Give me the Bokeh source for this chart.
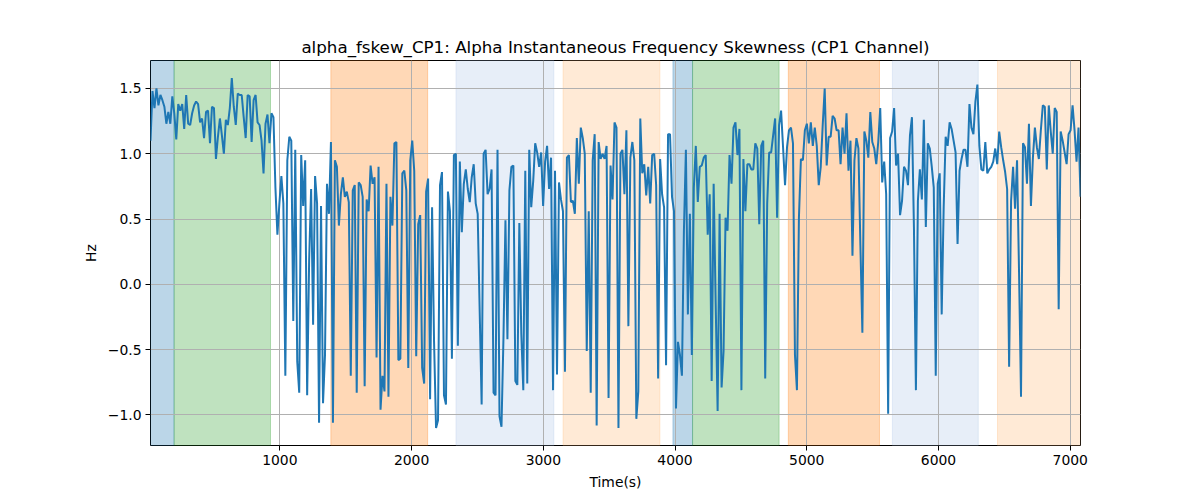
import numpy as np
from bokeh.plotting import figure
from bokeh.models import BoxAnnotation, FixedTicker, CustomJSTickFormatter, Range1d
from bokeh.embed import file_html
from bokeh.resources import INLINE

# ---- data ----
t_start = 18.0
t_end = 7078.0

hz = [
    # ~18 .. ~910 s
    1.1, 1.48, 1.35, 1.5, 1.37, 1.45, 1.41, 1.36, 1.23, 1.32,
    1.23, 1.44, 1.31, 1.11, 1.38, 1.33, 1.38, 1.19, 1.45, 1.23,
    1.22, 1.31, 1.37, 1.4, 1.38, 1.24, 1.27, 1.12, 1.32, 1.33,
    1.08, 1.36, 1.35, 0.96, 1.13, 1.27, 1.14, 1.0, 1.26, 1.22,
    1.35, 1.58, 1.36, 1.22, 1.46, 1.45, 1.45, 1.28, 1.12, 1.45,
    1.44, 1.09, 1.41, 1.45, 1.24, 1.22, 1.1, 0.85, 1.23, 1.3,
    # ~925 .. ~1800 s
    1.08, 1.31, 1.28, 0.74, 0.38, 0.62, 0.83, 0.62, -0.7, 0.95,
    1.13, 1.1, -0.28, 1.03, -0.59, -0.83, 0.99, 0.6, 0.95, -0.85,
    0.18, 0.73, -0.31, 0.83, 0.62, -1.06, 0.6, -0.91, -0.54, 0.77,
    0.54, 1.09, -1.06, 0.95, 0.9, 0.45, 0.69, 0.82, 0.67, 0.71,
    0.63, -0.7, 0.72, 0.76, -0.83, 0.78, 0.76, 0.67, -0.78, 0.65,
    0.56, 0.91, 0.77, 0.82, -0.56, 0.9, -0.96, -0.7, -0.82,
    # ~1810 .. ~2690 s
    0.77, -0.86, 0.67, 0.45, 1.08, 1.09, -0.58, -0.57, 0.85, 0.87,
    0.72, -0.64, 0.95, 1.1, 0.87, -0.55, 0.46, 0.53, -0.64, -0.76,
    0.71, 0.81, -0.88, 0.59, -0.44, -1.1, -1.04, 0.76, 0.86, -0.85,
    -0.92, 0.71, 0.56, -0.57, 0.99, 1.0, -0.47, 0.94, 0.4, 0.77,
    0.88, 0.73, 0.63, 0.82, 0.92, 0.62, 0.54, -0.2, -0.92, 1.0,
    1.03, 0.69, 0.73, 0.88, -0.83, -0.85, 1.03, -1.01, -1.09,
    # ~2700 .. ~3570 s
    -0.41, 0.49, -0.42, 0.72, 0.9, 0.91, -0.74, -0.77, 0.47, -0.38,
    -0.81, 0.87, -0.76, 1.03, 0.59, 0.79, 1.08, 1.01, 0.9, 1.01,
    0.6, 0.94, 1.06, 0.73, 0.97, -0.81, 0.87, -0.69, 0.78, 0.65,
    0.56, -0.67, 0.97, 0.99, 0.63, 0.64, 0.54, 1.12, 0.77, 1.2,
    1.12, 1.0, -0.51, 0.56, -0.83, 0.95, 1.15, -1.08, 1.09, 0.96,
    1.0, 0.96, 1.06, -0.87, 0.91, 0.65, 1.24, 1.2, -1.1,
    # ~3590 .. ~4480 s
    1.0, 1.03, 0.69, 1.18, -0.32, 0.97, 1.09, 0.95, -1.03, -0.82,
    1.27, 0.85, 0.92, 0.68, 0.9, 0.62, 0.99, 1.0, 0.76, -0.72,
    0.96, 0.69, 0.59, -0.62, 1.15, 1.15, 0.67, 0.56, -0.95, -0.44,
    -0.54, -0.7, 0.41, 1.03, -0.23, 0.54, -0.54, 0.74, 1.06, 0.63,
    0.9, 0.91, 0.97, 0.99, 0.38, 0.69, -0.74, 0.77, -0.13, -0.97,
    0.54, -0.79, -0.51, 0.51, 0.41, 0.99, 0.77, 1.2, 1.24, 0.99,
    # ~4490 .. ~5370 s
    1.19, -0.81, 0.96, 0.56, 0.92, 0.92, 0.88, 0.88, 1.08, 1.04,
    0.46, 1.06, 1.1, -0.72, 0.62, 1.01, 1.01, 1.14, 1.27, 0.51,
    1.22, 1.33, 1.05, 0.76, 1.05, 1.18, 1.2, 1.08, -0.54, -0.81,
    0.51, 0.96, 0.95, 1.18, 1.23, 1.08, 1.24, 1.06, 1.2, 1.06,
    0.76, 0.9, 1.22, 1.5, 0.91, 1.13, 1.13, 1.29, 1.27, 1.18,
    1.18, 0.92, 1.2, 1.0, 1.31, 0.87, 1.1, 0.22, 0.95,
    # ~5380 .. ~6260 s
    1.12, 1.04, 0.3, -0.37, 1.17, 1.1, 0.97, 1.32, 1.09, 1.04,
    0.92, 1.09, 1.35, 0.78, 0.94, 0.69, -0.99, 1.12, 1.17, 1.35,
    0.91, 1.0, 0.53, 0.64, 0.9, 0.87, 0.76, 1.14, 1.28, 0.44,
    -0.81, 0.64, 0.88, 0.65, 1.26, 0.44, 1.08, 1.04, 0.9, 0.74,
    -0.7, 0.77, 0.85, -0.23, 0.59, 1.13, 1.06, 1.24, 1.19, 1.1,
    1.01, 0.31, 0.87, 0.96, 1.03, 1.03, 0.9, 1.38, 1.2,
    # ~6270 .. 7078 s
    1.15, 1.4, 1.53, 1.06, 0.88, 0.87, 1.09, 0.85, 0.88, 0.9,
    0.94, 1.04, 0.92, 1.17, 1.05, 0.95, 0.86, 0.73, -0.63, 0.64,
    0.9, 0.58, 0.95, 0.1, -0.86, 1.08, 1.05, 0.77, 1.23, 0.6,
    0.97, 1.2, 1.05, 0.96, 1.18, 1.37, 1.36, 0.88, 1.37, 1.17,
    1.0, 1.35, 1.32, -0.19, 1.17, 1.1, 1.01, 0.92, 1.15, 1.18,
    1.37, 1.18, 0.94, 1.2, 0.67,
]

time_s = np.linspace(t_start, t_end, len(hz))

region_start = [0, 197, 1387, 2337, 3150, 3984, 4133, 4860, 5650, 6448]
region_end = [197, 929, 2122, 3080, 3885, 4133, 4790, 5552, 6302, 7100]
region_color = ["#1f77b4", "#2ca02c", "#ff7f0e", "#aec7e8", "#ffbb78",
                "#1f77b4", "#2ca02c", "#ff7f0e", "#aec7e8", "#ffbb78"]

x_ticks = [1000, 2000, 3000, 4000, 5000, 6000, 7000]
y_ticks = [-1.0, -0.5, 0.0, 0.5, 1.0, 1.5]

# ---- figure ----
ymin, ymax = min(hz), max(hz)
pad = 0.05 * (ymax - ymin)

p = figure(width=1192, height=492, output_backend="svg", toolbar_location=None,
           x_range=Range1d(time_s[0], time_s[-1]),
           y_range=Range1d(ymin - pad, ymax + pad),
           min_border_left=150, min_border_right=112,
           min_border_top=60, min_border_bottom=47,
           title="alpha_fskew_CP1: Alpha Instantaneous Frequency Skewness (CP1 Channel)")

p.background_fill_color = "white"
p.border_fill_color = "white"
p.outline_line_color = "black"
p.outline_line_width = 1
p.outline_line_alpha = 1

p.title.align = "center"
p.title.text_font = "DejaVu Sans"
p.title.text_font_size = "16.7px"
p.title.text_font_style = "normal"
p.title.text_color = "black"
p.title.standoff = 8

for s, e, c in zip(region_start, region_end, region_color):
    p.add_layout(BoxAnnotation(left=s, right=e, fill_color=c, fill_alpha=0.3,
                               line_color=c, line_alpha=0.3, line_width=1,
                               level="image"))

p.line(time_s, hz, line_color="#1f77b4", line_width=2)

p.xaxis.ticker = FixedTicker(ticks=x_ticks)
p.yaxis.ticker = FixedTicker(ticks=y_ticks)
p.yaxis.formatter = CustomJSTickFormatter(code="return tick.toFixed(1).replace('-', '\u2212');")
p.xaxis.axis_label = "Time(s)"
p.yaxis.axis_label = "Hz"

for ax in (p.xaxis, p.yaxis):
    ax.axis_line_color = None
    ax.major_tick_line_color = "black"
    ax.major_tick_line_width = 1
    ax.major_tick_out = 5
    ax.major_tick_in = 0
    ax.minor_tick_line_color = None
    ax.major_label_text_font = "DejaVu Sans"
    ax.major_label_text_font_size = "13.9px"
    ax.major_label_text_color = "black"
    ax.major_label_standoff = 4
    ax.axis_label_text_font = "DejaVu Sans"
    ax.axis_label_text_font_size = "13.9px"
    ax.axis_label_text_font_style = "normal"
    ax.axis_label_text_color = "black"
    ax.axis_label_standoff = 6

p.grid.grid_line_color = "#b0b0b0"
p.grid.grid_line_width = 1
p.grid.level = "underlay"

open("out.html", "w").write(file_html(p, INLINE))
